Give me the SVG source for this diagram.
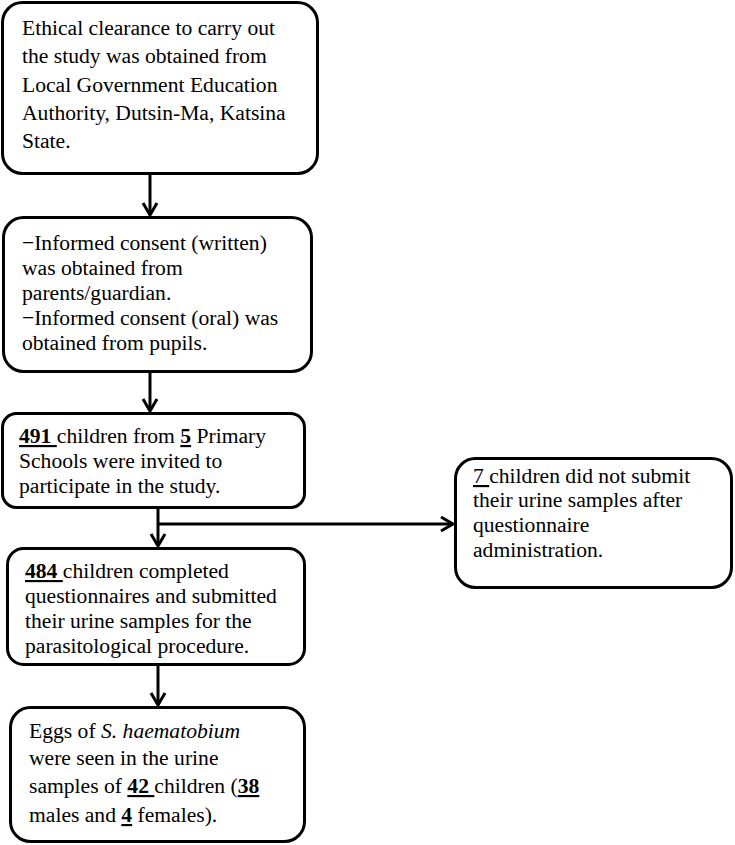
<svg xmlns="http://www.w3.org/2000/svg" width="735" height="845" viewBox="0 0 735 845">
<style>
.box{fill:#fff;stroke:#000;stroke-width:3}
.t{font-family:"Liberation Serif","Times New Roman",serif;font-size:21.6px;fill:#000}
.b{font-weight:bold}
.u{text-decoration:underline}
.i{font-style:italic}
.c{fill:none;stroke:#000;stroke-width:3}
</style>
<defs>
<marker id="ah" markerUnits="userSpaceOnUse" markerWidth="20" markerHeight="20" viewBox="-16 -10 20 20" refX="0" refY="0" orient="auto">
<path d="M-12,-7 L0,0 L-12,7" fill="none" stroke="#000" stroke-width="3"/>
</marker>
</defs>
<rect width="735" height="845" fill="#fff"/>
<g id="connectors">
<line class="c" x1="150" y1="174" x2="150" y2="215" marker-end="url(#ah)"/>
<line class="c" x1="150" y1="372" x2="150" y2="411" marker-end="url(#ah)"/>
<line class="c" x1="158" y1="508" x2="158" y2="546" marker-end="url(#ah)"/>
<line class="c" x1="158" y1="524" x2="453" y2="524" marker-end="url(#ah)"/>
<line class="c" x1="158" y1="665" x2="158" y2="705" marker-end="url(#ah)"/>
</g>
<g id="n1">
<rect class="box" x="2.5" y="2.5" width="315" height="171" rx="20"/>
<text class="t" x="22" y="35">Ethical clearance to carry out</text>
<text class="t" x="22" y="63.3">the study was obtained from</text>
<text class="t" x="22" y="91.7">Local Government Education</text>
<text class="t" x="22" y="120">Authority, Dutsin-Ma, Katsina</text>
<text class="t" x="22" y="148.3">State.</text>
</g>
<g id="n2">
<rect class="box" x="3.5" y="217.5" width="308" height="154" rx="20"/>
<text class="t" x="22" y="250">−Informed consent (written)</text>
<text class="t" x="22" y="275">was obtained from</text>
<text class="t" x="22" y="300">parents/guardian.</text>
<text class="t" x="22" y="325">−Informed consent (oral) was</text>
<text class="t" x="22" y="350">obtained from pupils.</text>
</g>
<g id="n3">
<rect class="box" x="2.5" y="413.5" width="302" height="94" rx="14"/>
<text class="t" x="19" y="443"><tspan class="b u">491 </tspan>children from <tspan class="b u">5</tspan> Primary</text>
<text class="t" x="19" y="468">Schools were invited to</text>
<text class="t" x="19" y="493">participate in the study.</text>
</g>
<g id="n4">
<rect class="box" x="7.5" y="548.5" width="297" height="116" rx="16"/>
<text class="t" x="25" y="578"><tspan class="b u">484 </tspan>children completed</text>
<text class="t" x="25" y="603">questionnaires and submitted</text>
<text class="t" x="25" y="628">their urine samples for the</text>
<text class="t" x="25" y="653">parasitological procedure.</text>
</g>
<g id="n5">
<rect class="box" x="10.5" y="707.5" width="294" height="134" rx="20"/>
<text class="t" x="29" y="738">Eggs of <tspan class="i">S. haematobium</tspan></text>
<text class="t" x="29" y="765">were seen in the urine</text>
<text class="t" x="29" y="793">samples of <tspan class="b u">42 </tspan>children (<tspan class="b u">38</tspan></text>
<text class="t" x="29" y="822">males and <tspan class="b u">4</tspan> females).</text>
</g>
<g id="n6">
<rect class="box" x="455.5" y="458.5" width="276" height="129" rx="20"/>
<text class="t" x="473" y="483"><tspan class="u">7 </tspan>children did not submit</text>
<text class="t" x="473" y="507">their urine samples after</text>
<text class="t" x="473" y="532">questionnaire</text>
<text class="t" x="473" y="557">administration.</text>
</g>
</svg>
